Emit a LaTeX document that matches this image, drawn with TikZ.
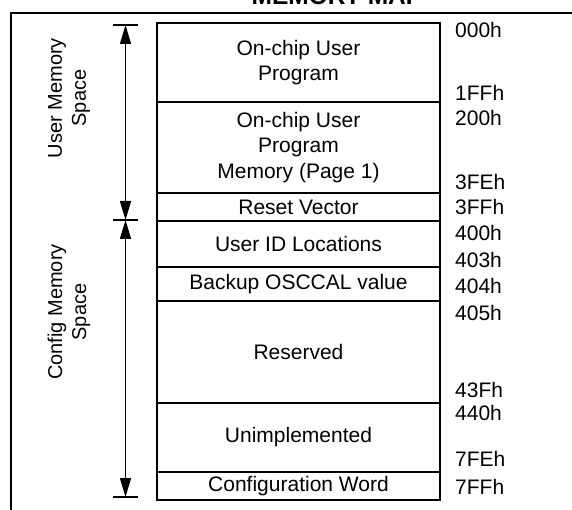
\documentclass[tikz,border=0pt]{standalone}
\usepackage{fontspec}
\setmainfont{Liberation Sans}
\usepackage{tikz}
\usetikzlibrary{positioning,arrows.meta}

\begin{document}
\begin{tikzpicture}[x=1pt, y=-1pt,
    memrow/.style={draw, line width=2pt, rectangle, minimum width=283pt, inner sep=0pt, outer sep=0pt, align=center, font=\fontsize{21}{25.5}\selectfont},
    addr/.style={anchor=west, inner sep=0pt, font=\fontsize{21}{25}\selectfont},
    spacelbl/.style={rotate=90, align=center, inner sep=0pt, font=\fontsize{20}{24}\selectfont},
    span/.style={line width=1.4pt, {Triangle[length=19pt,width=11pt]}-{Triangle[length=19pt,width=11pt]}},
    tick/.style={line width=1.6pt}]
        \useasboundingbox (0,0) rectangle (572,510);

        \node[anchor=base, inner sep=0pt, font=\fontsize{24.5}{28}\selectfont\bfseries] (maptitle) at (337,5) {MEMORY MAP};
        \draw[line width=2pt] (590,12.7) -- (11,12.7) -- (11,530);

        \node[memrow, minimum height=79pt, anchor=north] (userprog) at (298.5,23) {On-chip User\\Program};
        \node[memrow, minimum height=91pt, below=0pt of userprog] (userpage) {On-chip User\\Program\\Memory (Page 1)};
        \node[memrow, minimum height=28pt, below=0pt of userpage] (resetvec) {Reset Vector};
        \node[memrow, minimum height=46pt, below=0pt of resetvec] (userid) {User ID Locations};
        \node[memrow, minimum height=34pt, below=0pt of userid] (osccal) {Backup OSCCAL value};
        \node[memrow, minimum height=102pt, below=0pt of osccal] (reserved) {Reserved};
        \node[memrow, minimum height=69pt, below=0pt of reserved] (unimpl) {Unimplemented};
        \node[memrow, minimum height=28pt, below=0pt of unimpl] (configw) {Configuration Word};

        \node[addr] (a000) at (455,30) {000h};
        \node[addr] (a1ff) at (455,93) {1FFh};
        \node[addr] (a200) at (455,118) {200h};
        \node[addr] (a3fe) at (455,182) {3FEh};
        \node[addr] (a3ff) at (455,207) {3FFh};
        \node[addr] (a400) at (455,233) {400h};
        \node[addr] (a403) at (455,260) {403h};
        \node[addr] (a404) at (455,286) {404h};
        \node[addr] (a405) at (455,313) {405h};
        \node[addr] (a43f) at (455,390) {43Fh};
        \node[addr] (a440) at (455,413) {440h};
        \node[addr] (a7fe) at (455,459) {7FEh};
        \node[addr] (a7ff) at (455,487) {7FFh};

        \coordinate (usrtop) at (125.5,25);
        \coordinate (usrend) at (125.5,220);
        \coordinate (cfgend) at (125.5,497);
        \draw[tick] ([xshift=-12.5pt]usrtop) -- ([xshift=12.5pt]usrtop);
        \draw[tick] ([xshift=-12.5pt]usrend) -- ([xshift=12.5pt]usrend);
        \draw[tick] ([xshift=-12.5pt]cfgend) -- ([xshift=12.5pt]cfgend);
        \draw[span] (usrtop) -- (usrend);
        \draw[span] (usrend) -- (cfgend);

        \node[spacelbl] (usrlbl) at (69,98) {User Memory\\Space};
        \node[spacelbl] (cfglbl) at (69,312) {Config Memory\\Space};
    \end{tikzpicture}
\end{document}
